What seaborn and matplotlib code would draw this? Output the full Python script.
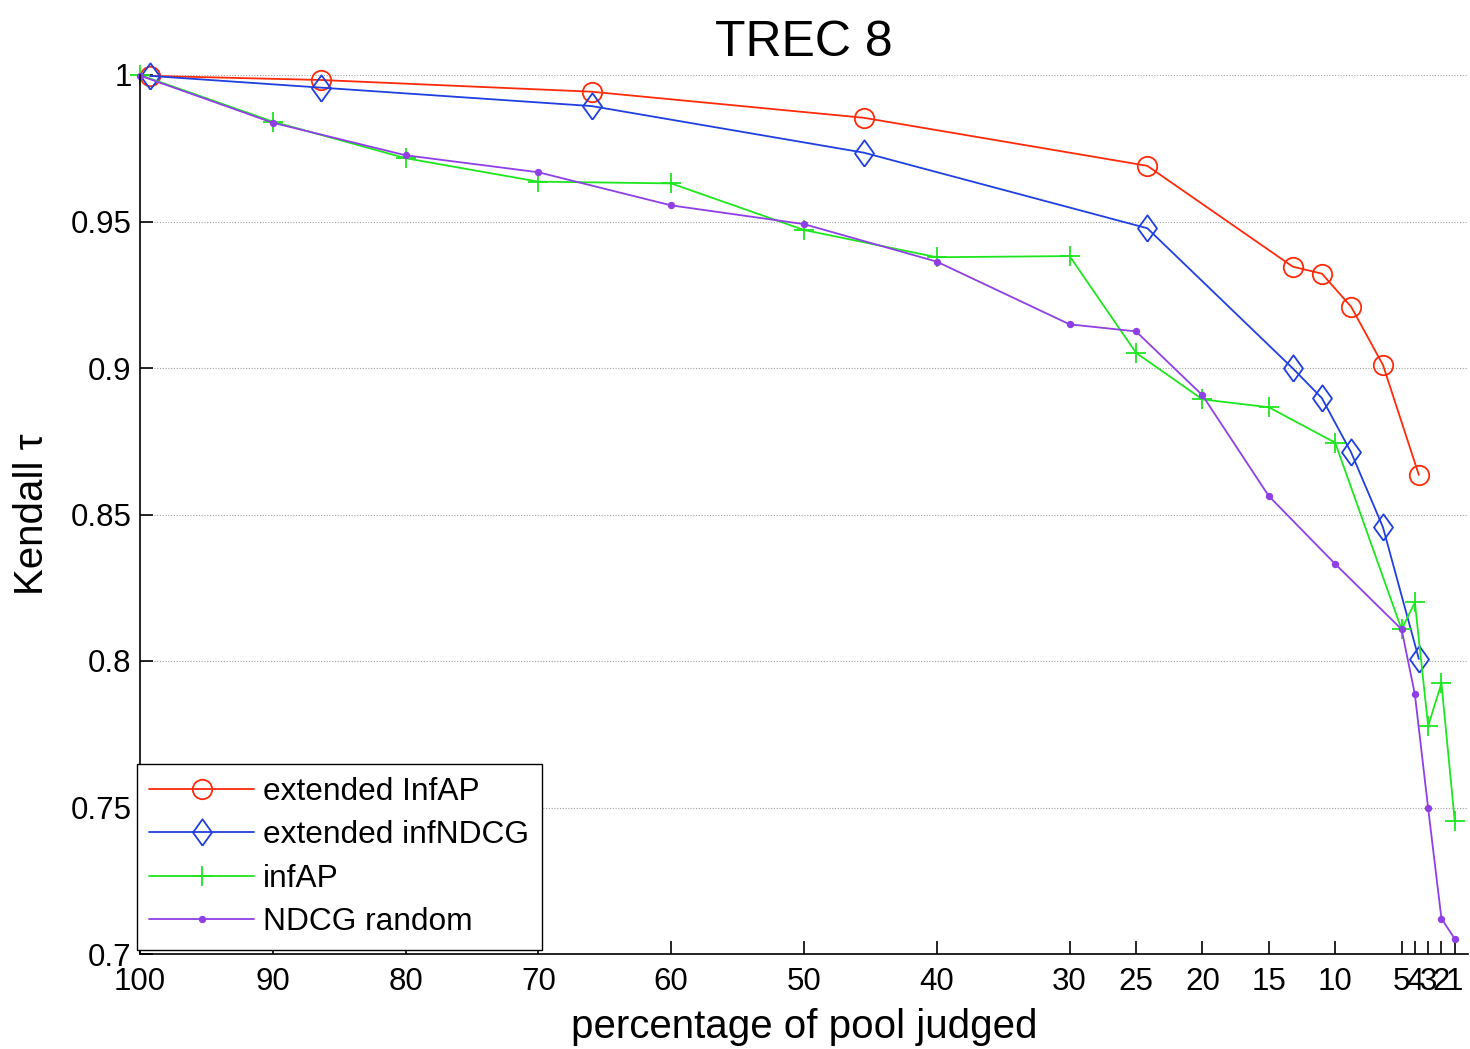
import numpy as np
import pandas as pd
import matplotlib
matplotlib.use("Agg")
import matplotlib.pyplot as plt
import seaborn as sns

# ---- data ----
ext_pct = [99.25, 86.4, 66.0, 45.5, 24.15, 13.2, 11.0, 8.8, 6.4, 3.7]
ext_infap = [0.9997, 0.9983, 0.9943, 0.9854, 0.9690, 0.9346, 0.9322, 0.9209, 0.9010, 0.8635]
ext_infndcg = [0.9997, 0.9957, 0.9894, 0.9735, 0.9477, 0.8999, 0.8897, 0.8712, 0.8456, 0.8007]

pct = [100, 90, 80, 70, 60, 50, 40, 30, 25, 20, 15, 10, 5, 4, 3, 2, 1]
infap = [1.0, 0.9841, 0.9716, 0.9636, 0.9630, 0.9471, 0.9378, 0.9382, 0.9052, 0.8893,
         0.8866, 0.8745, 0.8108, 0.8200, 0.7778, 0.7924, 0.7455]
ndcg_random = [0.9998, 0.9837, 0.9726, 0.9668, 0.9555, 0.9491, 0.9363, 0.9149, 0.9125,
               0.8907, 0.8563, 0.8331, 0.8108, 0.7886, 0.7497, 0.7121, 0.7052]

xticks = [100, 90, 80, 70, 60, 50, 40, 30, 25, 20, 15, 10, 5, 4, 3, 2, 1]
xticklabels = [str(t) for t in xticks]
yticks = [0.7, 0.75, 0.8, 0.85, 0.9, 0.95, 1.0]
yticklabels = ["0.7", "0.75", "0.8", "0.85", "0.9", "0.95", "1"]

labels = ["extended InfAP", "extended infNDCG", "infAP", "NDCG random"]

# ---- style ----
sns.set_style("white")
plt.rcParams["font.family"] = ["Liberation Sans", "DejaVu Sans"]
plt.rcParams["text.color"] = "black"
plt.rcParams["axes.labelcolor"] = "black"

fig = plt.figure(figsize=(14.7, 10.49), dpi=100)
ax = fig.add_axes([140/1470, 1-954/1049, (1468-140)/1470, (954-75)/1049])

c_red = "#ff2a0a"
c_blue = "#1f3fe0"
c_green = "#1ee61e"
c_purple = "#8f3fe6"

diamond = [(0, -1), (0.72, 0), (0, 1), (-0.72, 0), (0, -1)]

series = [
    (ext_pct, ext_infap, labels[0], c_red, "o", 14, "none"),
    (ext_pct, ext_infndcg, labels[1], c_blue, diamond, 19, "none"),
    (pct, infap, labels[2], c_green, "+", 15, None),
    (pct, ndcg_random, labels[3], c_purple, ".", 8, None),
]

for xs, ys, lab, col, mk, ms, mfc in series:
    kw = dict(markeredgecolor=col, markeredgewidth=1.3)
    kw["markerfacecolor"] = mfc if mfc is not None else col
    sns.lineplot(x=xs, y=ys, ax=ax, color=col, marker=mk, markersize=ms,
                 linewidth=1.3, label=lab, estimator=None, sort=False,
                 clip_on=False, **kw)

ax.set_xlim(100, 0)
ax.set_ylim(0.7, 1.0)
ax.set_xticks(xticks)
ax.set_xticklabels(xticklabels)
ax.set_yticks(yticks)
ax.set_yticklabels(yticklabels)

ax.tick_params(axis="both", direction="in", length=9.5, width=1.2, labelsize=22.5,
               colors="black", left=True, bottom=True)
ax.tick_params(axis="x", pad=9)
ax.tick_params(axis="y", pad=6)

for s in ["top", "right"]:
    ax.spines[s].set_visible(False)
for s in ["left", "bottom"]:
    ax.spines[s].set_color("black")
    ax.spines[s].set_linewidth(1.2)

ax.yaxis.grid(True, linestyle=(0, (1, 1.5)), color="#a0a0a0", linewidth=0.8)
ax.xaxis.grid(False)
ax.set_axisbelow(True)

ax.set_title("TREC 8", fontsize=36, pad=14, color="black")
ax.set_xlabel("percentage of pool judged", fontsize=29, labelpad=8)
ax.set_ylabel("Kendall τ", fontsize=29, labelpad=14)

leg = ax.legend(loc="lower left", bbox_to_anchor=(-0.0025, 0.005), borderaxespad=0,
                fontsize=22.8, frameon=True, fancybox=False, framealpha=1,
                edgecolor="black", handlelength=3.3, handletextpad=0.3,
                labelspacing=0.42, borderpad=0.4, numpoints=1)
leg.get_frame().set_linewidth(1.0)
for t in leg.get_texts():
    t.set_color("black")

fig.savefig("out.png", dpi=100, facecolor="white")
